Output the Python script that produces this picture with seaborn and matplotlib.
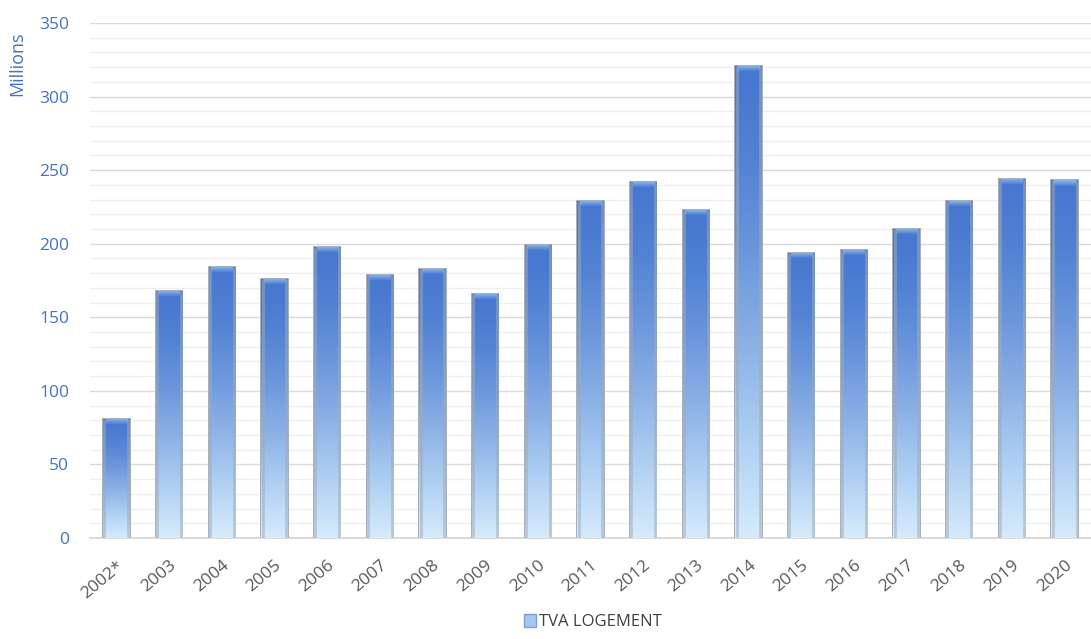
import numpy as np
import pandas as pd
import matplotlib
matplotlib.use("Agg")
import matplotlib.pyplot as plt
from matplotlib.colors import LinearSegmentedColormap
from matplotlib.patches import Patch
import seaborn as sns

years = ["2002*", "2003", "2004", "2005", "2006", "2007", "2008", "2009", "2010",
         "2011", "2012", "2013", "2014", "2015", "2016", "2017", "2018", "2019", "2020"]
tva_logement = [81, 168, 184, 176, 198, 179, 183, 166, 199,
                229, 242, 223, 321, 194, 196, 210, 229, 244, 243]
series_name = "TVA LOGEMENT"

df = pd.DataFrame({"annee": years, "valeur": tva_logement})

sns.set_theme(style="white")
plt.rcParams["font.family"] = ["Open Sans", "DejaVu Sans"]

blue_txt = "#4472c4"

fig = plt.figure(figsize=(10.91, 6.39), dpi=100)
ax = fig.add_axes([0.0825, 0.158, 0.9175, 0.806])

sns.barplot(data=df, x="annee", y="valeur", ax=ax, width=0.5,
            color="#7fa6de", edgecolor="#a3aebb", linewidth=1.4, zorder=3)

# vertical gradient inside each bar: blue at the top, pale blue at the bottom
grad = LinearSegmentedColormap.from_list(
    "bar", ["#d6ebfc", "#b0d0f3", "#8db2e6", "#6c97dc", "#5282d3", "#4676cf"])
cap = LinearSegmentedColormap.from_list("cap", ["#4d7ed3", "#93bcef"])
for p in ax.patches:
    x0, y0 = p.get_x(), p.get_y()
    w, h = p.get_width(), p.get_height()
    img = np.linspace(0, 1, 256).reshape(-1, 1)
    im = ax.imshow(img, cmap=grad, origin="lower", aspect="auto",
                   extent=[x0, x0 + w, y0, y0 + h], zorder=3.5,
                   interpolation="bicubic")
    im.set_clip_path(p)
    # lighter cap at the top of each bar
    ch = 3.5
    img2 = np.linspace(0, 1, 64).reshape(-1, 1)
    im2 = ax.imshow(img2, cmap=cap, origin="lower", aspect="auto",
                    extent=[x0 + w * 0.1, x0 + w * 0.9, y0 + h - ch, y0 + h],
                    zorder=3.6, interpolation="bicubic")
    im2.set_clip_path(p)
    # soft grey shading along the sides
    for fx in (0.05, 0.95):
        ax.plot([x0 + w * fx, x0 + w * fx], [y0, y0 + h], color="#9fabb9",
                lw=2.0, alpha=0.55, zorder=3.7, solid_capstyle="butt")

ax.set_xlim(-0.5, len(years) - 0.5)
ax.set_ylim(0, 350)
ax.set_yticks(np.arange(0, 351, 50))
ax.set_yticks(np.arange(0, 351, 10), minor=True)
ax.grid(axis="y", which="major", color="#d9d9d9", lw=1.0, zorder=0)
ax.grid(axis="y", which="minor", color="#efefef", lw=1.0, zorder=0)
ax.grid(axis="x", visible=False)
for s in ["top", "right", "left"]:
    ax.spines[s].set_visible(False)
ax.spines["bottom"].set_color("#d9d9d9")
ax.spines["bottom"].set_linewidth(1.4)

ax.tick_params(axis="y", which="both", length=0, labelsize=12.5, labelcolor=blue_txt, pad=15)
ax.tick_params(axis="x", length=0, labelsize=12.5, labelcolor="#595959", pad=14)
plt.setp(ax.get_xticklabels(), rotation=40, ha="right", rotation_mode="anchor")

ax.set_xlabel("")
ax.set_ylabel("Millions", color=blue_txt, fontsize=13)
ax.yaxis.set_label_coords(-0.064, 0.92)

handle = Patch(facecolor="#a4c8ef", edgecolor="#7f9fc8", label=series_name)
fig.legend(handles=[handle], loc="lower center", bbox_to_anchor=(0.543, -0.01),
           frameon=False, fontsize=12, handlelength=0.75, handleheight=0.75,
           handletextpad=0.15, labelcolor="#404040")

fig.savefig("out.png", dpi=100)
